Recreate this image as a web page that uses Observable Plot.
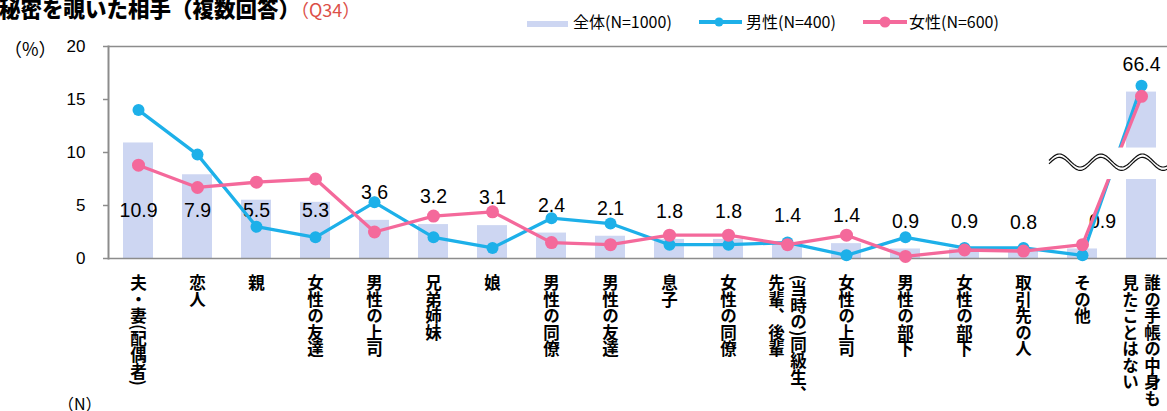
<!DOCTYPE html>
<html>
<head>
<meta charset="utf-8">
<script src="https://cdn.jsdelivr.net/npm/d3@7"></script>
<script src="https://cdn.jsdelivr.net/npm/@observablehq/plot@0.6"></script>
<style>
  body { margin: 0; background: #fff; }
  #wrap { position: relative; width: 1167px; height: 411px; overflow: hidden; font-family: "Noto Sans CJK JP", sans-serif; color: #000; }
  .abs { position: absolute; white-space: nowrap; }
  .title { left: -1px; top: -7px; font-size: 21.5px; font-weight: 900; line-height: 30px; }
  .title .q { color: #DC5048; font-weight: normal; font-size: 18px; }
  .leg { top: 10px; font-size: 16px; line-height: 22px; }
  #chart { position: absolute; left: 0; top: 0; }
</style>
</head>
<body>
<div id="wrap">
  <div id="chart"></div>
  <div class="abs title">秘密を覗いた相手（複数回答）<span class="q">（Q34）</span></div>
  <div class="abs" id="sw" style="left:527px;top:21px;width:41px;height:6px;"></div>
  <div class="abs leg" style="left:573px;">全体(N=1000)</div>
  <svg class="abs" style="left:698px;top:14px;" width="45" height="16"><line x1="1" x2="44" y1="8" y2="8" id="lm" stroke-width="4"/><circle cx="21" cy="8" r="4.5" id="dm"/></svg>
  <div class="abs leg" style="left:746px;">男性(N=400)</div>
  <svg class="abs" style="left:862px;top:14px;" width="46" height="16"><line x1="1" x2="45" y1="8" y2="8" id="lf" stroke-width="4"/><circle cx="23" cy="8" r="5.5" id="df"/></svg>
  <div class="abs leg" style="left:909px;">女性(N=600)</div>
  <div class="abs" style="left:4px;top:35px;font-size:18px;line-height:26px;">（%）</div>
  <div class="abs" style="left:58px;top:392px;font-size:16px;line-height:22px;">（N）</div>
</div>
<script>
// ---- data ----
const categories = [
  "夫・妻(配偶者)", "恋人", "親", "女性の友達", "男性の上司", "兄弟姉妹", "娘",
  "男性の同僚", "男性の友達", "息子", "女性の同僚", "(当時の)同級生、\n先輩、後輩",
  "女性の上司", "男性の部下", "女性の部下", "取引先の人", "その他", "誰の手帳の中身も\n見たことはない"
];
const totalPct  = [10.9, 7.9, 5.5, 5.3, 3.6, 3.2, 3.1, 2.4, 2.1, 1.8, 1.8, 1.4, 1.4, 0.9, 0.9, 0.8, 0.9, 66.4];
const malePct   = [14.0, 9.8, 3.0, 2.0, 5.3, 2.0, 1.0, 3.8, 3.3, 1.3, 1.3, 1.5, 0.3, 2.0, 1.0, 1.0, 0.3, 67.0];
const femalePct = [8.8, 6.7, 7.2, 7.5, 2.5, 4.0, 4.4, 1.5, 1.3, 2.2, 2.2, 1.3, 2.2, 0.2, 0.8, 0.7, 1.3, 66.0];
const yTicks = [0, 5, 10, 15, 20];

// ---- style ----
const C_BAR = "#CDD6F2", C_MALE = "#1DB0E9", C_FEMALE = "#F4699B", C_AXIS = "#8C8C8C";
document.getElementById("sw").style.background = C_BAR;
for (const [id, c] of [["lm", C_MALE], ["dm", C_MALE], ["lf", C_FEMALE], ["df", C_FEMALE]]) {
  const el = document.getElementById(id);
  el.setAttribute(id[0] === "l" ? "stroke" : "fill", c);
}

// broken axis: values above the axis maximum are drawn shifted down
const AXIS_MAX = 20, BREAK_SHIFT = 50.7;
const disp = v => v > AXIS_MAX ? v - BREAK_SHIFT : v;
const labelY = v => (v <= AXIS_MAX && v >= 5) ? 4.5 : disp(v) + 2.6;

const rows = categories.map((c, i) => {
  const parts = c.split("\n");
  const beforeBreak = i + 1 < categories.length && totalPct[i + 1] > AXIS_MAX;
  return { c, total: totalPct[i], male: malePct[i], female: femalePct[i], parts, beforeBreak };
});
const singles = rows.filter(d => d.parts.length === 1);
const multis = rows.filter(d => d.parts.length > 1);

const labelFont = { fontWeight: "bold", fontSize: 16.5, fontFamily: "Noto Sans CJK JP", fill: "#000",
  frameAnchor: "bottom", textAnchor: "start", dy: 16 };
const valueFont = { fontSize: 19.5, fill: "#000" };

const plot = Plot.plot({
  width: 1167,
  height: 411,
  marginTop: 46,
  marginBottom: 153,
  marginLeft: 108,
  marginRight: 0,
  style: { background: "transparent", fontFamily: "Liberation Sans, Arial, sans-serif" },
  x: { domain: categories, range: [108, 1170], paddingInner: 0.5, paddingOuter: 0.25, axis: null },
  y: { domain: [0, AXIS_MAX], axis: null },
  marks: [
    Plot.barY(rows, { x: "c", y: d => disp(d.total), fill: C_BAR }),
    Plot.ruleY([0, AXIS_MAX], { stroke: C_AXIS, strokeWidth: 1.6 }),
    Plot.axisY(yTicks, { tickSize: 5, tickPadding: 18, stroke: C_AXIS, strokeWidth: 1.5, fontSize: 17, fill: "#000" }),
    Plot.frame({ anchor: "left", stroke: C_AXIS, strokeWidth: 2 }),
    Plot.text(rows.filter(d => !d.beforeBreak), { x: "c", y: d => labelY(d.total), text: d => d.total.toFixed(1), ...valueFont }),
    Plot.text(rows.filter(d => d.beforeBreak), { x: "c", y: d => labelY(d.total), text: d => d.total.toFixed(1), dx: 20, ...valueFont }),
    Plot.line(rows, { x: "c", y: d => disp(d.male), stroke: C_MALE, strokeWidth: 3.3 }),
    Plot.dot(rows, { x: "c", y: d => disp(d.male), fill: C_MALE, r: 6 }),
    Plot.line(rows, { x: "c", y: d => disp(d.female), stroke: C_FEMALE, strokeWidth: 3.3 }),
    Plot.dot(rows, { x: "c", y: d => disp(d.female), fill: C_FEMALE, r: 6.5 }),
    Plot.text(singles, { x: "c", text: d => d.parts[0], ...labelFont }),
    Plot.text(multis, { x: "c", text: d => d.parts[0], dx: 11, ...labelFont }),
    Plot.text(multis, { x: "c", text: d => d.parts[1], dx: -11, ...labelFont })
  ]
});

// vertical (tategaki) category labels: the last three text marks
const textGroups = Array.from(plot.querySelectorAll('g[aria-label="text"]'));
textGroups.slice(-3).forEach(gr => {
  gr.querySelectorAll("text").forEach(t => {
    t.removeAttribute("dy");
    t.setAttribute("writing-mode", "vertical-rl");
    t.style.writingMode = "vertical-rl";
    t.style.textOrientation = "mixed";
  });
});

// axis-break decoration over the last category
const xs = plot.scale("x"), ys = plot.scale("y");
const svg = d3.select(plot);
const bx0 = xs.apply(categories[16]) + xs.bandwidth / 2 - 33;
const bx1 = 1167;
const yTop = ys.apply(10.42), yBot = ys.apply(7.45);
const g = svg.append("g").attr("aria-label", "axis break");
g.append("rect").attr("x", bx0).attr("y", yTop).attr("width", bx1 - bx0).attr("height", yBot - yTop).attr("fill", "#fff");
const period = 41.5, amp = 6.5;
for (const off of [0, 3.4]) {
  const cy = ys.apply(9.2) + off;
  const pts = d3.range(bx0, bx1 + 1, 1).map(x => [x, cy - amp * Math.sin(2 * Math.PI * (x - bx0) / period)]);
  g.append("path").attr("d", d3.line()(pts)).attr("fill", "none").attr("stroke", "#111").attr("stroke-width", 1.2);
}

document.getElementById("chart").appendChild(plot);
</script>
</body>
</html>
